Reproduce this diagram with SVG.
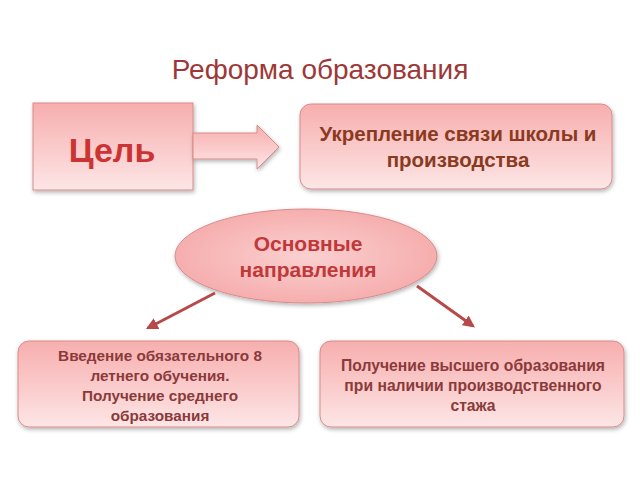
<svg xmlns="http://www.w3.org/2000/svg" width="640" height="480" viewBox="0 0 640 480">
<defs>
<linearGradient id="pink" x1="0" y1="0" x2="0" y2="1">
<stop offset="0" stop-color="#f7aeae"/>
<stop offset="0.6" stop-color="#fbcfcf"/>
<stop offset="1" stop-color="#fde6e6"/>
</linearGradient>
<radialGradient id="ell" cx="0.5" cy="0.5" r="0.6">
<stop offset="0" stop-color="#fbd0d0"/>
<stop offset="1" stop-color="#f5a7a7"/>
</radialGradient>
<filter id="sh" x="-10%" y="-10%" width="120%" height="130%">
<feDropShadow dx="1" dy="2" stdDeviation="2" flood-color="#000" flood-opacity="0.3"/>
</filter>
<marker id="ah" viewBox="0 0 10 10" refX="8" refY="5" markerWidth="4" markerHeight="4" orient="auto">
<path d="M0,0 L10,5 L0,10 z" fill="#b8494a"/>
</marker>
</defs>
<style>
.box{fill:url(#pink);stroke:#d98b8b;stroke-width:1;filter:url(#sh)}
.t{font-family:"Liberation Sans",Arial,sans-serif;font-weight:bold;text-anchor:middle}
.con{stroke:#b8494a;stroke-width:3;fill:none}
</style>
<text x="320" y="79" font-family="'Liberation Sans',Arial,sans-serif" font-size="28" fill="#9e3838" text-anchor="middle">Реформа образования</text>
<g id="goal">
<rect class="box" x="33" y="103" width="160" height="87"/>
<text class="t" x="112" y="162" font-size="34" fill="#cc3333">Цель</text>
</g>
<g id="goal-arrow">
<path class="box" d="M193,133 L257,133 L257,125 L279,147 L257,169 L257,159 L193,159 Z"/>
</g>
<g id="aim">
<rect class="box" x="300" y="104" width="312" height="85" rx="11"/>
<text class="t" x="458" y="141" font-size="20.5" fill="#8a3a1e">Укрепление связи школы и</text>
<text class="t" x="458" y="167" font-size="20.5" fill="#8a3a1e">производства</text>
</g>
<g id="main">
<ellipse cx="306" cy="256" rx="131" ry="47" fill="url(#ell)" stroke="#d98b8b" stroke-width="1" filter="url(#sh)"/>
<text class="t" x="308" y="251" font-size="21" fill="#c0393a">Основные</text>
<text class="t" x="308" y="277" font-size="21" fill="#c0393a">направления</text>
</g>
<g id="connectors">
<line class="con" x1="215" y1="293" x2="148" y2="328" marker-end="url(#ah)"/>
<line class="con" x1="417" y1="286" x2="473" y2="326" marker-end="url(#ah)"/>
</g>
<g id="dir1">
<rect class="box" x="18" y="341" width="281" height="86" rx="11"/>
<text class="t" x="160" y="361" font-size="15.3" fill="#8b3a3a">Введение обязательного 8</text>
<text class="t" x="160" y="381" font-size="15.3" fill="#8b3a3a">летнего обучения.</text>
<text class="t" x="160" y="401" font-size="15.3" fill="#8b3a3a">Получение среднего</text>
<text class="t" x="160" y="421" font-size="15.3" fill="#8b3a3a">образования</text>
</g>
<g id="dir2">
<rect class="box" x="320" y="341" width="304" height="86" rx="11"/>
<text class="t" x="473" y="371" font-size="15.7" fill="#8b3a3a">Получение высшего образования</text>
<text class="t" x="473" y="391" font-size="15.7" fill="#8b3a3a">при наличии производственного</text>
<text class="t" x="473" y="411" font-size="15.7" fill="#8b3a3a">стажа</text>
</g>
</svg>
